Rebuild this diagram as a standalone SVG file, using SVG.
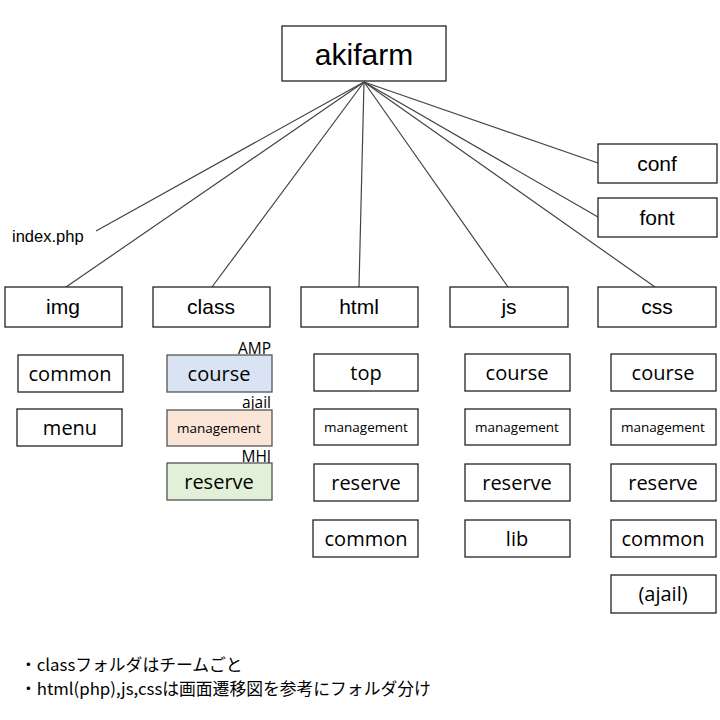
<svg xmlns="http://www.w3.org/2000/svg" width="720" height="720" viewBox="0 0 720 720">
<style>
.box{fill:#fff;stroke:#222;stroke-width:1.3}
.blue{fill:#dae3f3;stroke:#555;stroke-width:1.3}
.orange{fill:#fbe5d6;stroke:#555;stroke-width:1.3}
.green{fill:#e2f0d9;stroke:#555;stroke-width:1.3}
.t1{font-family:"Liberation Sans",Arial,sans-serif;font-size:21px;fill:#000;text-anchor:middle}
.t0{font-family:"Liberation Sans",Arial,sans-serif;font-size:30px;fill:#000;text-anchor:middle}
.t2{font-family:"Open Sans",sans-serif;font-size:20px;fill:#000;text-anchor:middle}
.ts{font-family:"Open Sans",sans-serif;font-size:13.5px;fill:#000;text-anchor:middle}
.tag{font-family:"Open Sans",sans-serif;font-size:15.5px;fill:#000;text-anchor:end}
.note{font-family:"Noto Sans CJK JP",sans-serif;font-size:16.8px;fill:#000}
.edge{stroke:#444;stroke-width:1.2;fill:none}
</style>
<rect width="720" height="720" fill="#fff"/>
<g id="connectors">
<line class="edge" x1="364" y1="82" x2="96" y2="231"/>
<line class="edge" x1="364" y1="82" x2="66" y2="287"/>
<line class="edge" x1="364" y1="82" x2="212" y2="287"/>
<line class="edge" x1="364" y1="82" x2="359" y2="287"/>
<line class="edge" x1="364" y1="82" x2="508" y2="287"/>
<line class="edge" x1="364" y1="82" x2="655" y2="287"/>
<line class="edge" x1="364" y1="82" x2="598" y2="163"/>
<line class="edge" x1="364" y1="82" x2="598" y2="217"/>
</g>
<g id="akifarm"><rect class="box" x="282" y="26" width="164" height="55"/><text class="t0" x="364" y="65">akifarm</text></g>
<g id="conf"><rect class="box" x="598" y="144" width="119" height="39"/><text class="t1" x="657" y="171">conf</text></g>
<g id="font"><rect class="box" x="598" y="198" width="119" height="39"/><text class="t1" x="657" y="225">font</text></g>
<g id="index"><text x="12" y="242" font-family="Liberation Sans, Arial, sans-serif" font-size="16.5" fill="#000">index.php</text></g>
<g id="img"><rect class="box" x="5" y="287" width="117" height="40"/><text class="t1" x="63" y="314">img</text></g>
<g id="class"><rect class="box" x="153" y="287" width="117" height="40"/><text class="t1" x="211" y="314">class</text></g>
<g id="html"><rect class="box" x="301" y="287" width="117" height="40"/><text class="t1" x="359" y="314">html</text></g>
<g id="js"><rect class="box" x="450" y="287" width="118" height="40"/><text class="t1" x="509" y="314">js</text></g>
<g id="css"><rect class="box" x="598" y="287" width="118" height="40"/><text class="t1" x="657" y="314">css</text></g>

<g id="img-common"><rect class="box" x="18" y="355" width="105" height="37"/><text class="t2" x="70" y="381">common</text></g>
<g id="img-menu"><rect class="box" x="17" y="409" width="105" height="37"/><text class="t2" x="70" y="435">menu</text></g>

<g id="class-course"><text class="tag" x="271" y="354">AMP</text><rect class="blue" x="167" y="355" width="105" height="37"/><text class="t2" x="219" y="381">course</text></g>
<g id="class-management"><text class="tag" x="271" y="408">ajail</text><rect class="orange" x="167" y="410" width="105" height="36"/><text class="ts" x="219" y="433">management</text></g>
<g id="class-reserve"><text class="tag" x="271" y="462">MHJ</text><rect class="green" x="167" y="463" width="105" height="37"/><text class="t2" x="219" y="489">reserve</text></g>

<g id="html-top"><rect class="box" x="314" y="354" width="104" height="37"/><text class="t2" x="366" y="380">top</text></g>
<g id="html-management"><rect class="box" x="314" y="409" width="104" height="36"/><text class="ts" x="366" y="432">management</text></g>
<g id="html-reserve"><rect class="box" x="314" y="464" width="104" height="37"/><text class="t2" x="366" y="490">reserve</text></g>
<g id="html-common"><rect class="box" x="313" y="520" width="105" height="37"/><text class="t2" x="366" y="546">common</text></g>

<g id="js-course"><rect class="box" x="465" y="354" width="105" height="37"/><text class="t2" x="517" y="380">course</text></g>
<g id="js-management"><rect class="box" x="465" y="409" width="105" height="36"/><text class="ts" x="517" y="432">management</text></g>
<g id="js-reserve"><rect class="box" x="465" y="464" width="105" height="37"/><text class="t2" x="517" y="490">reserve</text></g>
<g id="js-lib"><rect class="box" x="465" y="520" width="105" height="37"/><text class="t2" x="517" y="546">lib</text></g>

<g id="css-course"><rect class="box" x="611" y="354" width="105" height="37"/><text class="t2" x="663" y="380">course</text></g>
<g id="css-management"><rect class="box" x="611" y="409" width="105" height="36"/><text class="ts" x="663" y="432">management</text></g>
<g id="css-reserve"><rect class="box" x="611" y="464" width="105" height="37"/><text class="t2" x="663" y="490">reserve</text></g>
<g id="css-common"><rect class="box" x="611" y="520" width="105" height="37"/><text class="t2" x="663" y="546">common</text></g>
<g id="css-ajail"><rect class="box" x="611" y="575" width="105" height="38"/><text class="t2" x="663" y="601">(ajail)</text></g>

<g id="notes">
<text class="note" x="20" y="671">・classフォルダはチームごと</text>
<text class="note" x="20" y="695">・html(php),js,cssは画面遷移図を参考にフォルダ分け</text>
</g>
</svg>
